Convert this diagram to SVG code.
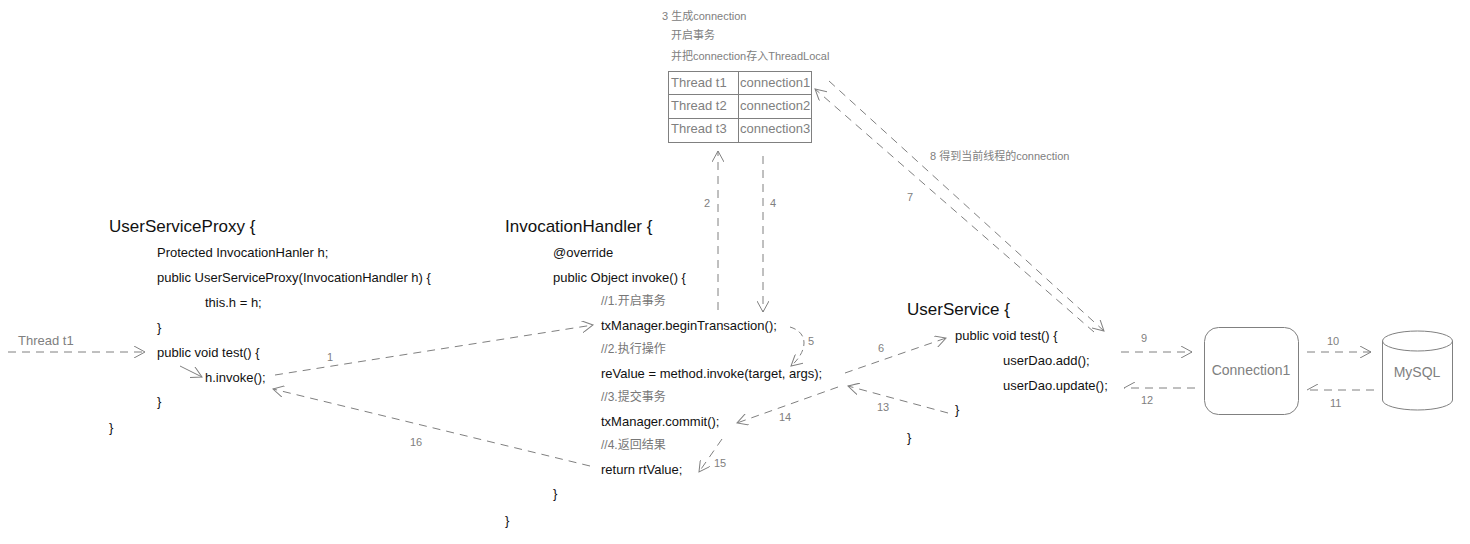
<svg xmlns="http://www.w3.org/2000/svg" width="1470" height="544" viewBox="0 0 1470 544">
<style>
text{font-family:"Liberation Sans","Noto Sans CJK SC",sans-serif;}
.h{font-size:17px;fill:#111}
.c{font-size:13px;fill:#111}
.g{font-size:12px;fill:#777}
.l{font-size:11px;fill:#808080}
.t{font-size:13px;fill:#808080}
.d{fill:none;stroke:#808080;stroke-width:1;stroke-dasharray:8,6}
.s{fill:none;stroke:#808080;stroke-width:1}
</style>
<defs>
<marker id="a" viewBox="0 0 12 12" refX="11" refY="6" markerWidth="12" markerHeight="12" markerUnits="userSpaceOnUse" orient="auto"><path d="M0,0 L11,6 L0,12" fill="none" stroke="#808080"/></marker>
<marker id="hf" viewBox="0 0 12 12" refX="11" refY="6" markerWidth="12" markerHeight="12" markerUnits="userSpaceOnUse" orient="auto"><path d="M0,12 L11,6" fill="none" stroke="#808080"/></marker>
</defs>
<rect width="1470" height="544" fill="#fff"/>
<g id="proxy">
<text class="h" x="109" y="232">UserServiceProxy {</text>
<text class="c" x="157" y="257">Protected InvocationHanler h;</text>
<text class="c" x="157" y="282">public UserServiceProxy(InvocationHandler h) {</text>
<text class="c" x="205" y="307">this.h = h;</text>
<text class="c" x="157" y="332">}</text>
<text class="c" x="157" y="357">public void test() {</text>
<text class="c" x="205" y="382">h.invoke();</text>
<text class="c" x="157" y="406">}</text>
<text class="c" x="109" y="432">}</text>
</g>
<g id="handler">
<text class="h" x="505" y="232">InvocationHandler {</text>
<text class="c" x="553" y="257">@override</text>
<text class="c" x="553" y="282">public Object invoke() {</text>
<text class="g" x="601" y="305">//1.开启事务</text>
<text class="c" x="601" y="330">txManager.beginTransaction();</text>
<text class="g" x="601" y="353">//2.执行操作</text>
<text class="c" x="601" y="378">reValue = method.invoke(target, args);</text>
<text class="g" x="601" y="401">//3.提交事务</text>
<text class="c" x="601" y="426">txManager.commit();</text>
<text class="g" x="601" y="449">//4.返回结果</text>
<text class="c" x="601" y="474">return rtValue;</text>
<text class="c" x="553" y="498">}</text>
<text class="c" x="505" y="525">}</text>
</g>
<g id="userservice">
<text class="h" x="907" y="315">UserService {</text>
<text class="c" x="955" y="340">public void test() {</text>
<text class="c" x="1003" y="365">userDao.add();</text>
<text class="c" x="1003" y="390">userDao.update();</text>
<text class="c" x="955" y="414">}</text>
<text class="c" x="907" y="442">}</text>
</g>
<g id="threadlocal">
<text class="l" x="662" y="20">3  生成connection</text>
<text class="l" x="671" y="39">开启事务</text>
<text class="l" x="671" y="60">并把connection存入ThreadLocal</text>
<rect class="s" x="668.5" y="71.5" width="143" height="71"/>
<line class="s" x1="738.5" y1="71.5" x2="738.5" y2="142.5"/>
<line class="s" x1="668.5" y1="94.5" x2="811.5" y2="94.5"/>
<line class="s" x1="668.5" y1="118.5" x2="811.5" y2="118.5"/>
<text class="t" x="671" y="87">Thread t1</text>
<text class="t" x="740" y="87">connection1</text>
<text class="t" x="671" y="110">Thread t2</text>
<text class="t" x="740" y="110">connection2</text>
<text class="t" x="671" y="133">Thread t3</text>
<text class="t" x="740" y="133">connection3</text>
</g>
<g id="connection1">
<rect class="s" x="1204.5" y="327.5" width="94" height="87" rx="14"/>
<text x="1251" y="375" text-anchor="middle" style="font-size:14px;fill:#808080">Connection1</text>
</g>
<g id="mysql">
<path class="s" d="M1382.5,341 V400 A35,10 0 0 0 1452.5,400 V341"/>
<ellipse class="s" cx="1417.5" cy="341" rx="35" ry="10"/>
<text x="1417" y="377" text-anchor="middle" style="font-size:14px;fill:#808080">MySQL</text>
</g>
<g id="connectors">
<text class="t" x="18" y="345">Thread t1</text>
<line class="d" x1="8" y1="352" x2="145" y2="352" marker-end="url(#a)"/>
<line class="s" x1="180" y1="366" x2="202" y2="377" marker-end="url(#a)"/>
<line class="d" x1="275" y1="375" x2="593" y2="325" marker-end="url(#a)"/>
<text class="l" x="327" y="361">1</text>
<line class="d" x1="590" y1="466" x2="273" y2="389" marker-end="url(#a)"/>
<text class="l" x="410" y="446">16</text>
<line class="d" x1="718" y1="310" x2="718" y2="151" marker-end="url(#a)"/>
<text class="l" x="704" y="207">2</text>
<line class="d" x1="763" y1="156" x2="763" y2="312" marker-end="url(#a)"/>
<text class="l" x="770" y="207">4</text>
<path class="d" style="stroke-dasharray:6,4" d="M790,327 C810,333 807,352 791,366" marker-end="url(#a)"/>
<text class="l" x="808" y="345">5</text>
<line class="d" x1="845" y1="373" x2="946" y2="338" marker-end="url(#a)"/>
<text class="l" x="878" y="352">6</text>
<line class="d" x1="948" y1="413" x2="848" y2="386" marker-end="url(#a)"/>
<text class="l" x="877" y="411">13</text>
<line class="d" x1="838" y1="387" x2="737" y2="423" marker-end="url(#a)"/>
<text class="l" x="779" y="421">14</text>
<line class="d" x1="722" y1="439" x2="699" y2="472" marker-end="url(#a)"/>
<text class="l" x="714" y="467">15</text>
<line class="d" x1="1094" y1="332" x2="815" y2="89" marker-end="url(#a)"/>
<text class="l" x="907" y="201">7</text>
<line class="d" x1="829" y1="81" x2="1104" y2="331" marker-end="url(#a)"/>
<text class="l" x="930" y="160">8 得到当前线程的connection</text>
<line class="d" x1="1121" y1="352" x2="1192" y2="352" marker-end="url(#a)"/>
<text class="l" x="1141" y="342">9</text>
<line class="d" x1="1195" y1="388" x2="1124" y2="388" marker-end="url(#hf)"/>
<text class="l" x="1141" y="404">12</text>
<line class="d" x1="1307" y1="352" x2="1371" y2="352" marker-end="url(#a)"/>
<text class="l" x="1327" y="345">10</text>
<line class="d" x1="1374" y1="390" x2="1307" y2="390" marker-end="url(#hf)"/>
<text class="l" x="1330" y="407">11</text>
</g>
</svg>
